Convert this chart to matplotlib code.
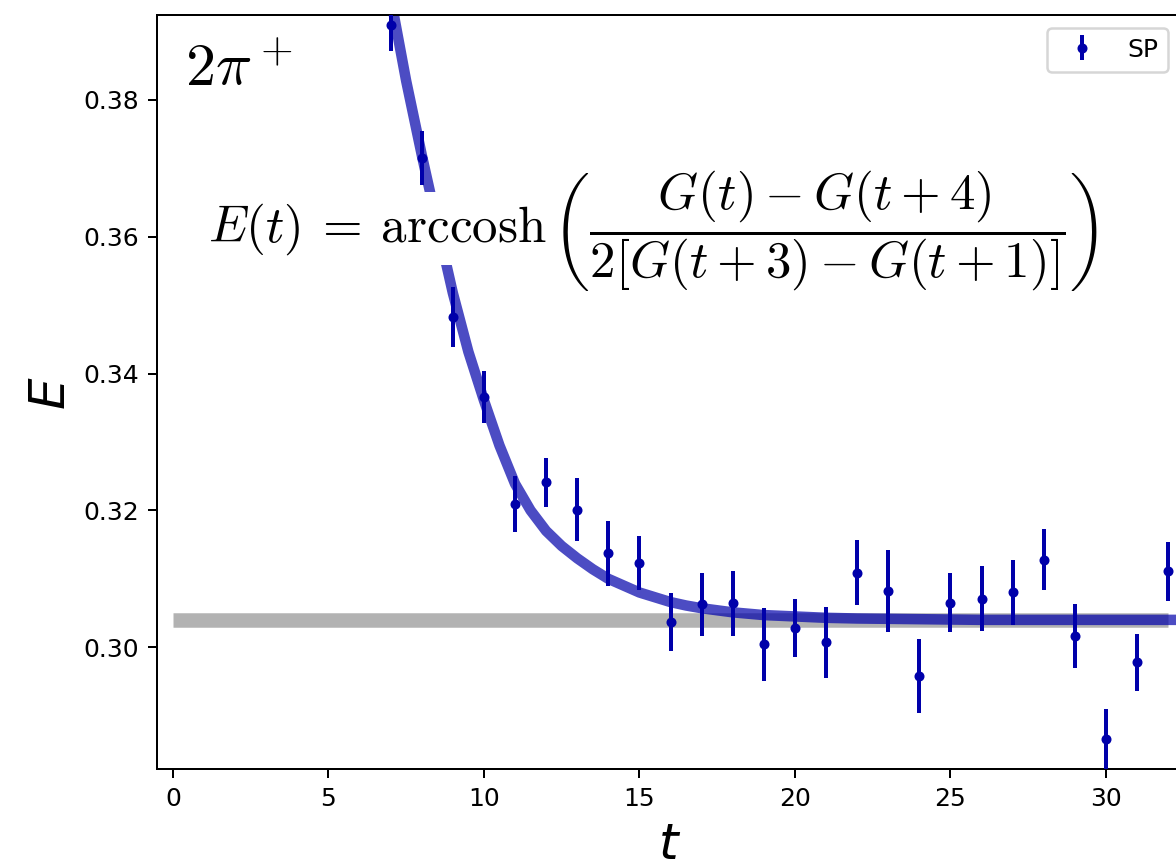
import numpy as np
import matplotlib
matplotlib.use("Agg")
import matplotlib.pyplot as plt
from matplotlib.patches import Rectangle

# SP effective mass data
t_data = [7, 8, 9, 10, 11, 12, 13, 14, 15, 16, 17, 18, 19, 20,
          21, 22, 23, 24, 25, 26, 27, 28, 29, 30, 31, 32]
E_data = [0.3909, 0.3715, 0.3483, 0.3366, 0.3209, 0.3241, 0.3201, 0.3137,
          0.3123, 0.3037, 0.3063, 0.3064, 0.3004, 0.3028, 0.3007, 0.3109,
          0.3082, 0.2958, 0.3065, 0.3071, 0.3080, 0.3128, 0.3016, 0.2866,
          0.2978, 0.3111]
E_err = [0.0037, 0.0039, 0.0044, 0.0038, 0.0041, 0.0036, 0.0046, 0.0048,
         0.0040, 0.0042, 0.0046, 0.0048, 0.0054, 0.0043, 0.0052, 0.0048,
         0.0060, 0.0054, 0.0043, 0.0048, 0.0047, 0.0045, 0.0047, 0.0044,
         0.0042, 0.0043]

# fit curve
t_fit = [7.0, 7.5, 8.0, 8.5, 9.0, 9.5, 10.0, 10.5, 11.0, 11.5, 12.0, 12.5,
         13.0, 13.5, 14.0, 14.5, 15.0, 15.5, 16.0, 16.5, 17.0, 18.0, 19.0,
         20.0, 21.0, 22.0, 24.0, 26.0, 34.0]
E_fit = [0.3950, 0.3828, 0.3720, 0.3618, 0.3518, 0.3432, 0.3361, 0.3295,
         0.3239, 0.3200, 0.3170, 0.3148, 0.3130, 0.3114, 0.3100, 0.3090,
         0.3080, 0.3073, 0.3066, 0.3061, 0.3057, 0.3051, 0.3047, 0.3045,
         0.3043, 0.3042, 0.3041, 0.3040, 0.3040]

# plateau value
t_plat = [0, 32]
E_plat = [0.3040, 0.3040]

fig = plt.figure(figsize=(1176/180, 860/180), dpi=180)
ax = fig.add_axes([0.1335, 0.1058, 0.8707, 0.8767])

ax.plot(t_plat, E_plat, color='k', alpha=0.3, lw=5.8, solid_capstyle='butt', zorder=1)
ax.plot(t_fit, E_fit, color='#0000aa', alpha=0.7, lw=4.2, zorder=2)

# white patch behind the formula
ax.add_patch(Rectangle((0.04, 0.668), 0.89, 0.097, transform=ax.transAxes,
                       facecolor='white', edgecolor='none', zorder=2.5))

ax.errorbar(t_data, E_data, yerr=E_err, fmt='.', color='#0000aa',
            elinewidth=1.6, label='SP', zorder=3)

ax.text(0.027, 0.906, r'$2\pi^+$', transform=ax.transAxes, fontsize=24,
        math_fontfamily='cm', ha='left', va='baseline', zorder=4)
ax.text(0.05, 0.699,
        r'$E(t)\:=\:\mathrm{arccosh}\,\left(\dfrac{G(t)-G(t+4)}{2[G(t+3)-G(t+1)]}\right)$',
        transform=ax.transAxes, fontsize=20.4, math_fontfamily='cm',
        ha='left', va='baseline', zorder=4)

ax.set_xlim(-0.51, 32.41)
ax.set_ylim(0.2822, 0.3924)
ax.set_xticks([0, 5, 10, 15, 20, 25, 30])
ax.set_yticks([0.30, 0.32, 0.34, 0.36, 0.38])
ax.set_xlabel('t', fontsize=20, fontstyle='italic')
ax.set_ylabel('E', fontsize=20, fontstyle='italic')
ax.legend(loc='upper right')

fig.savefig('out.png', dpi=180)
